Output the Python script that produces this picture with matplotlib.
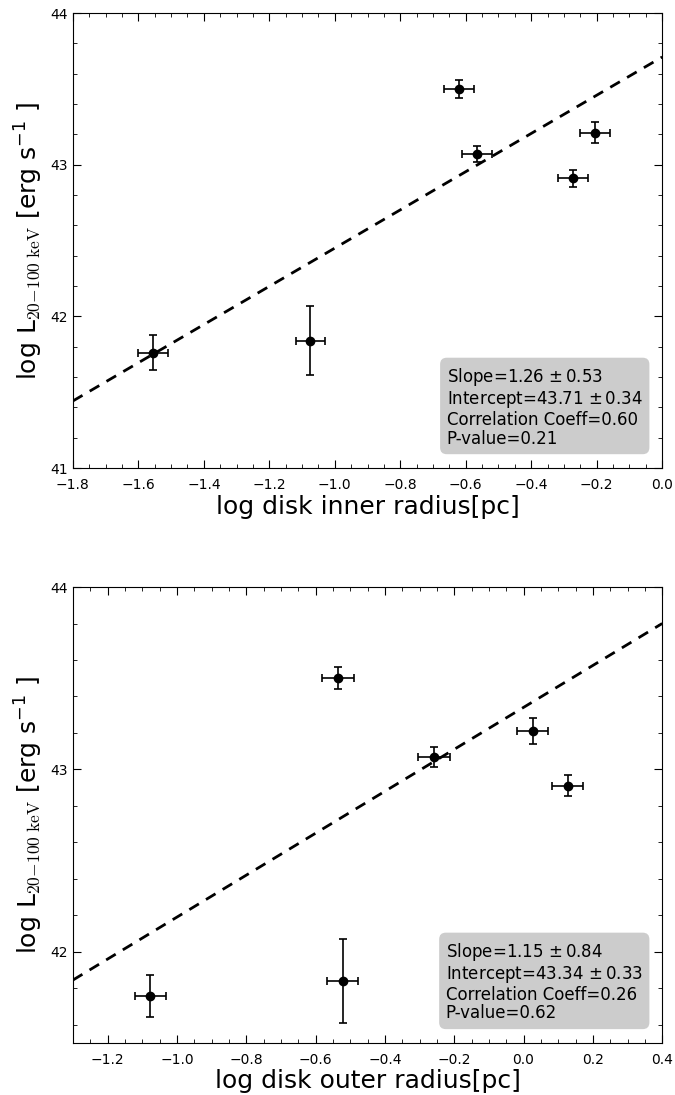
import numpy as np
import matplotlib
matplotlib.use('Agg')
import matplotlib.pyplot as plt
from matplotlib.ticker import MultipleLocator, AutoMinorLocator

plt.rcParams['mathtext.fontset'] = 'cm'
plt.rcParams['mathtext.default'] = 'regular'

# luminosity (same sources in both panels)
log_L = [43.50, 43.07, 43.21, 42.91, 41.84, 41.76]
log_L_err = [0.06, 0.055, 0.07, 0.057, 0.23, 0.115]

# inner disk radius
log_r_in = [-0.62, -0.565, -0.205, -0.272, -1.075, -1.555]
log_r_in_err = [0.045, 0.045, 0.045, 0.045, 0.045, 0.045]

# outer disk radius
log_r_out = [-0.535, -0.258, 0.027, 0.127, -0.522, -1.077]
log_r_out_err = [0.045, 0.045, 0.045, 0.045, 0.045, 0.045]

# fit results
fit_in = dict(slope=1.26, slope_err=0.53, icpt=43.71, icpt_err=0.34, r=0.60, p=0.21)
fit_out = dict(slope=1.15, slope_err=0.84, icpt=43.34, icpt_err=0.33, r=0.26, p=0.62)

ylabel = r'log L$_{\mathrm{20{-}100\ keV}}$ [erg s$^{-1}$ ]'


def panel(ax, x, xerr, fit, xlim, ylim, xlabel):
    ax.errorbar(x, log_L, xerr=xerr, yerr=log_L_err, fmt='o', color='k',
                ms=6, ecolor='k', elinewidth=1.2, capsize=3, capthick=1.2)
    xx = np.array(xlim)
    ax.plot(xx, fit['slope'] * xx + fit['icpt'], 'k--', lw=2, dashes=(4, 3))
    ax.set_xlim(*xlim)
    ax.set_ylim(*ylim)
    ax.xaxis.set_major_locator(MultipleLocator(0.2))
    ax.xaxis.set_minor_locator(AutoMinorLocator(4))
    ax.yaxis.set_major_locator(MultipleLocator(1))
    ax.yaxis.set_minor_locator(AutoMinorLocator(5))
    ax.tick_params(which='both', direction='in', top=True, right=True, labelsize=10)
    ax.tick_params(which='major', length=6)
    ax.tick_params(which='minor', length=3)
    ax.tick_params(axis='x', which='major', pad=7)
    ax.set_xlabel(xlabel, fontsize=18, labelpad=2)
    ax.set_ylabel(ylabel, fontsize=18)
    txt = ('Slope=%.2f$\\,\\pm$%.2f\nIntercept=%.2f$\\,\\pm$%.2f\n'
           'Correlation Coeff=%.2f\nP-value=%.2f'
           % (fit['slope'], fit['slope_err'], fit['icpt'], fit['icpt_err'], fit['r'], fit['p']))
    ax.text(0.967, 0.045, txt, transform=ax.transAxes, ha='right', va='bottom',
            multialignment='left', fontsize=12, linespacing=1.05,
            bbox=dict(boxstyle='round,pad=0.4', fc='#cccccc', ec='none'))


fig = plt.figure(figsize=(6.75, 10.95), dpi=100)
ax1 = fig.add_axes([0.108, 0.5726, 0.873, 0.4155])
ax2 = fig.add_axes([0.108, 0.0475, 0.873, 0.4164])

panel(ax1, log_r_in, log_r_in_err, fit_in, (-1.8, 0.0), (41, 44), 'log disk inner radius[pc]')
panel(ax2, log_r_out, log_r_out_err, fit_out, (-1.3, 0.4), (41.5, 44), 'log disk outer radius[pc]')

fig.savefig('out.png', dpi=100)
